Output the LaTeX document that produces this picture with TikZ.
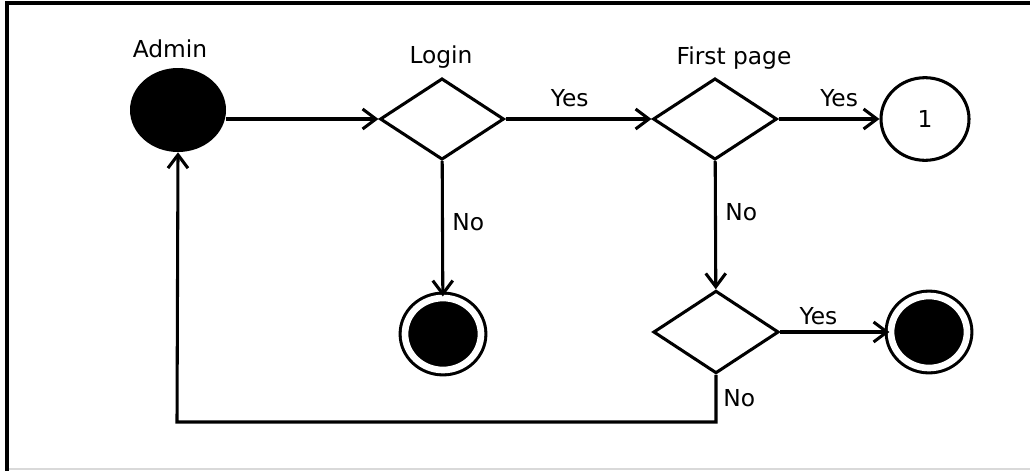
\documentclass[tikz,border=0pt]{standalone}
\usepackage{fontspec}
\setmainfont{DejaVu Sans}
\usetikzlibrary{shapes.geometric,arrows.meta}
\begin{document}
\begin{tikzpicture}[x=0.75pt,y=-0.75pt,
  every node/.style={font=\fontsize{17.5}{20}\selectfont},
  arr/.style={line width=2.3pt,-{Straight Barb[length=10pt,width=15pt,line width=2.3pt]}},
  decision/.style={diamond,draw,line width=2.3pt,minimum width=93pt,minimum height=61pt,inner sep=0pt},
  final/.style={ellipse,draw,fill=black,line width=2.3pt,double=white,double distance=5pt,
    minimum width=57pt,minimum height=54pt,inner sep=0pt}]
\useasboundingbox (0,0) rectangle (1030,471);
% frame
\draw[line width=1.5pt,black!15] (7,469) -- (1030,469);
\draw[line width=2.4pt] (1030,3) -- (7,3) -- (7,471);
% nodes
\node[ellipse,fill=black,minimum width=72pt,minimum height=63pt,inner sep=0pt] (admin) at (178,110) {};
\node (adminlabel) at (170,49) {Admin};
\node[decision] (login) at (442,119) {};
\node (loginlabel) at (441,57) {Login};
\node[decision] (firstpage) at (715,119) {};
\node (firstpagelabel) at (734,58) {First page};
\node[ellipse,draw,line width=2.3pt,minimum width=66pt,minimum height=62pt,inner sep=0pt] (one) at (925,119) {1};
\node[final] (endlogin) at (443,334) {};
\node[decision,minimum width=94pt,minimum height=62pt] (check) at (716,332) {};
\node[final] (endcheck) at (929,332) {};
\coordinate (loop) at (177,422);
% connectors
\draw[arr] (admin.east |- login) -- (login.west);
\draw[arr] (login) -- node[above=5pt,pos=0.44] {Yes} (firstpage);
\draw[arr] (firstpage) -- node[above=5pt,pos=0.6] {Yes} (one);
\draw[arr] (login) -- node[right=3pt,pos=0.45] {No} (endlogin);
\draw[arr] (firstpage) -- node[right=3pt,pos=0.4] {No} (check);
\draw[arr] (check) -- node[above=1pt,pos=0.35] {Yes} (endcheck);
\draw[arr] (check.south) |- node[right=1pt,pos=0.25] {No} (loop) -- (admin.south);
\end{tikzpicture}
\end{document}
